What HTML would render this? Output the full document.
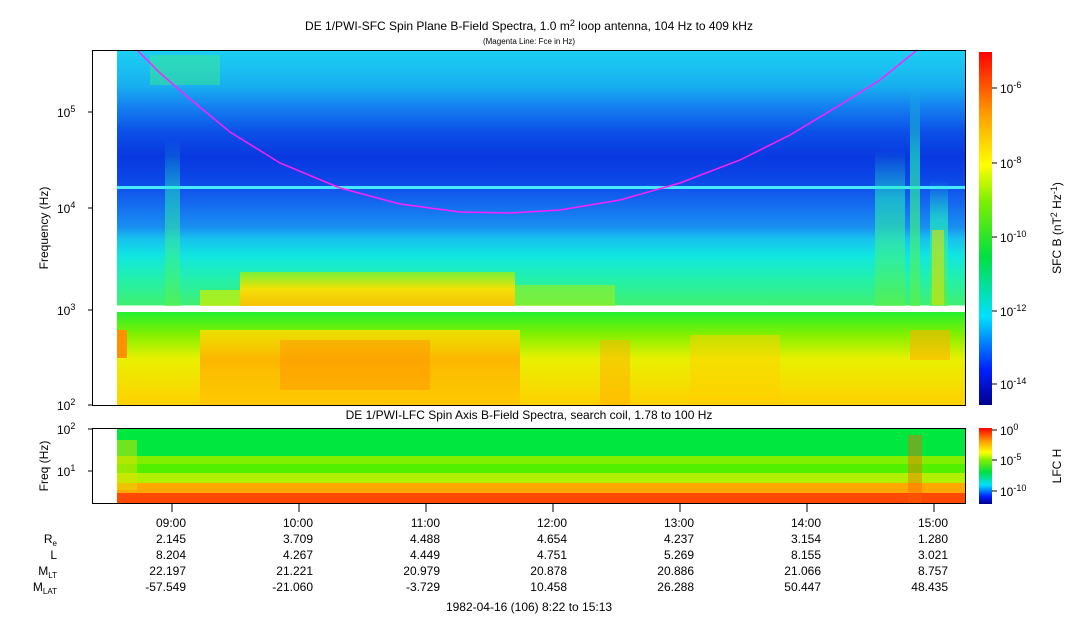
<!DOCTYPE html>
<html><head><meta charset="utf-8"><style>
body{margin:0;background:#fff;width:1083px;height:620px;overflow:hidden}
svg{font-family:"Liberation Sans",sans-serif;font-size:12px}
</style></head><body>
<svg width="1083" height="620" xmlns="http://www.w3.org/2000/svg">
<defs>
<linearGradient id="mv" x1="0" y1="0" x2="0" y2="1">
<stop offset="0" stop-color="#1cd0f2"/>
<stop offset="0.1" stop-color="#18b0f0"/>
<stop offset="0.16" stop-color="#1480f0"/>
<stop offset="0.23" stop-color="#0c50e8"/>
<stop offset="0.3" stop-color="#0838e0"/>
<stop offset="0.37" stop-color="#0c48e8"/>
<stop offset="0.43" stop-color="#1468f0"/>
<stop offset="0.5" stop-color="#1890f0"/>
<stop offset="0.53" stop-color="#18c0f0"/>
<stop offset="0.58" stop-color="#10e6e0"/>
<stop offset="0.64" stop-color="#20f0b0"/>
<stop offset="0.72" stop-color="#40f070"/>
<stop offset="0.72" stop-color="#fff"/>
<stop offset="0.735" stop-color="#fff"/>
<stop offset="0.735" stop-color="#20f030"/>
<stop offset="0.8" stop-color="#80f000"/>
<stop offset="0.87" stop-color="#e8f000"/>
<stop offset="1" stop-color="#ffd000"/>
</linearGradient>
<linearGradient id="cb" x1="0" y1="1" x2="0" y2="0">
<stop offset="0" stop-color="#00008c"/>
<stop offset="0.1" stop-color="#0020ff"/>
<stop offset="0.25" stop-color="#00e0ff"/>
<stop offset="0.42" stop-color="#00e040"/>
<stop offset="0.58" stop-color="#80f000"/>
<stop offset="0.68" stop-color="#ffff00"/>
<stop offset="0.82" stop-color="#ffa000"/>
<stop offset="1" stop-color="#ff0000"/>
</linearGradient>
<linearGradient id="or" x1="0" y1="0" x2="0" y2="1">
<stop offset="0" stop-color="#f8e000" stop-opacity="0.9"/>
<stop offset="0.4" stop-color="#ffb000" stop-opacity="0.9"/>
<stop offset="1" stop-color="#ffc000" stop-opacity="0.6"/>
</linearGradient>
<linearGradient id="ye" x1="0" y1="0" x2="0" y2="1">
<stop offset="0" stop-color="#a0f000" stop-opacity="0.7"/>
<stop offset="0.5" stop-color="#ffe000" stop-opacity="0.95"/>
<stop offset="1" stop-color="#ffc000" stop-opacity="0.95"/>
</linearGradient>
<linearGradient id="st" x1="0" y1="0" x2="0" y2="1">
<stop offset="0" stop-color="#20f0c0" stop-opacity="0"/>
<stop offset="0.3" stop-color="#20f0c0" stop-opacity="0.8"/>
<stop offset="1" stop-color="#60f040" stop-opacity="0.9"/>
</linearGradient>
</defs>
<rect x="117" y="50" width="849" height="355" fill="url(#mv)"/>
<rect x="117" y="186" width="849" height="3" fill="#48e8ff"/>
<rect x="240" y="272" width="275" height="34" fill="url(#ye)"/>
<rect x="200" y="290" width="40" height="16" fill="#d0f000" opacity="0.7"/>
<rect x="515" y="285" width="100" height="21" fill="#b0f000" opacity="0.5"/>
<rect x="200" y="330" width="320" height="75" fill="url(#or)"/>
<rect x="280" y="340" width="150" height="50" fill="#ff9000" opacity="0.45"/>
<rect x="600" y="340" width="30" height="65" fill="#ffb000" opacity="0.5"/>
<rect x="690" y="335" width="90" height="70" fill="#ffd000" opacity="0.5"/>
<rect x="117" y="330" width="10" height="28" fill="#ff9000"/>
<rect x="910" y="330" width="40" height="30" fill="#ffb000" opacity="0.6"/>
<rect x="875" y="150" width="30" height="160" fill="url(#st)" opacity="0.7"/>
<rect x="910" y="90" width="10" height="220" fill="url(#st)" opacity="0.8"/>
<rect x="930" y="180" width="18" height="130" fill="url(#st)" opacity="0.8"/>
<rect x="932" y="230" width="12" height="75" fill="#e0e000" opacity="0.6"/>
<rect x="165" y="140" width="15" height="170" fill="url(#st)" opacity="0.6"/>
<rect x="150" y="55" width="70" height="30" fill="#40f080" opacity="0.45"/>
<rect x="92" y="50" width="25" height="355" fill="#fff"/>
<rect x="92" y="306" width="874" height="6" fill="#fff"/>
<polyline fill="none" stroke="#ff20ff" stroke-width="1.5" points="137,50 160,73 190,99 230,132 280,163 340,188 400,204 460,212 510,213 560,210 620,200 680,183 740,160 790,135 840,105 880,80 917,50"/>
<rect x="92.5" y="50.5" width="873" height="355" fill="none" stroke="#000"/>
<rect x="117" y="428" width="849" height="28" fill="#00e840"/>
<rect x="117" y="456" width="849" height="8" fill="#80f000"/>
<rect x="117" y="464" width="849" height="9" fill="#50f000"/>
<rect x="117" y="473" width="849" height="10" fill="#b0f000"/>
<rect x="117" y="483" width="849" height="10" fill="#ffa800"/>
<rect x="117" y="493" width="849" height="10" fill="#ff4800"/>
<rect x="117" y="440" width="20" height="50" fill="#e0e000" opacity="0.5"/>
<rect x="908" y="435" width="14" height="68" fill="#ff6000" opacity="0.4"/>
<rect x="92.5" y="428.5" width="873" height="75" fill="none" stroke="#000"/>
<rect x="979" y="52" width="13" height="353" fill="url(#cb)"/>
<rect x="979" y="428" width="13" height="76" fill="url(#cb)"/>
<g stroke="#000">
<line x1="992" y1="88" x2="997" y2="88"/><line x1="992" y1="163" x2="997" y2="163"/><line x1="992" y1="237" x2="997" y2="237"/><line x1="992" y1="311" x2="997" y2="311"/><line x1="992" y1="384" x2="997" y2="384"/>
<line x1="992" y1="430" x2="997" y2="430"/><line x1="992" y1="460" x2="997" y2="460"/><line x1="992" y1="491" x2="997" y2="491"/>
<line x1="88" y1="405" x2="92" y2="405"/><line x1="88" y1="310" x2="92" y2="310"/><line x1="88" y1="208" x2="92" y2="208"/><line x1="88" y1="112" x2="92" y2="112"/>
<line x1="88" y1="429" x2="92" y2="429"/><line x1="88" y1="471" x2="92" y2="471"/>
<line x1="172" y1="504" x2="172" y2="512"/><line x1="299" y1="504" x2="299" y2="512"/><line x1="426" y1="504" x2="426" y2="512"/><line x1="553" y1="504" x2="553" y2="512"/><line x1="680" y1="504" x2="680" y2="512"/><line x1="807" y1="504" x2="807" y2="512"/><line x1="934" y1="504" x2="934" y2="512"/>
</g>
<g font-size="12">
<text x="1000" y="93">10<tspan dy="-5" font-size="9">-6</tspan></text>
<text x="1000" y="168">10<tspan dy="-5" font-size="9">-8</tspan></text>
<text x="1000" y="242">10<tspan dy="-5" font-size="9">-10</tspan></text>
<text x="1000" y="316">10<tspan dy="-5" font-size="9">-12</tspan></text>
<text x="1000" y="389">10<tspan dy="-5" font-size="9">-14</tspan></text>
<text x="1000" y="435">10<tspan dy="-5" font-size="9">0</tspan></text>
<text x="1000" y="465">10<tspan dy="-5" font-size="9">-5</tspan></text>
<text x="1000" y="496">10<tspan dy="-5" font-size="9">-10</tspan></text>
<text x="57" y="410">10<tspan dy="-5" font-size="9">2</tspan></text>
<text x="57" y="315">10<tspan dy="-5" font-size="9">3</tspan></text>
<text x="57" y="213">10<tspan dy="-5" font-size="9">4</tspan></text>
<text x="57" y="117">10<tspan dy="-5" font-size="9">5</tspan></text>
<text x="57" y="434">10<tspan dy="-5" font-size="9">2</tspan></text>
<text x="57" y="476">10<tspan dy="-5" font-size="9">1</tspan></text>
<text transform="translate(48,228) rotate(-90)" text-anchor="middle">Frequency (Hz)</text>
<text transform="translate(48,466) rotate(-90)" text-anchor="middle">Freq (Hz)</text>
<text transform="translate(1061,228) rotate(-90)" text-anchor="middle">SFC B (nT<tspan dy="-4" font-size="9">2</tspan><tspan dy="4"> Hz</tspan><tspan dy="-4" font-size="9">-1</tspan><tspan dy="4">)</tspan></text>
<text transform="translate(1061,466) rotate(-90)" text-anchor="middle">LFC H</text>
<text x="529" y="30" text-anchor="middle">DE 1/PWI-SFC  Spin Plane B-Field Spectra, 1.0 m<tspan dy="-4" font-size="9">2</tspan><tspan dy="4"> loop antenna, 104 Hz to 409 kHz</tspan></text>
<text x="529" y="44" text-anchor="middle" font-size="8">(Magenta Line: Fce in Hz)</text>
<text x="529" y="419" text-anchor="middle">DE 1/PWI-LFC  Spin Axis B-Field Spectra, search coil, 1.78 to 100 Hz</text>
</g>
<g text-anchor="end" font-size="12">
<text x="186" y="527">09:00</text><text x="313" y="527">10:00</text><text x="440" y="527">11:00</text><text x="567" y="527">12:00</text><text x="694" y="527">13:00</text><text x="821" y="527">14:00</text><text x="948" y="527">15:00</text>
<text x="186" y="543">2.145</text><text x="313" y="543">3.709</text><text x="440" y="543">4.488</text><text x="567" y="543">4.654</text><text x="694" y="543">4.237</text><text x="821" y="543">3.154</text><text x="948" y="543">1.280</text>
<text x="186" y="559">8.204</text><text x="313" y="559">4.267</text><text x="440" y="559">4.449</text><text x="567" y="559">4.751</text><text x="694" y="559">5.269</text><text x="821" y="559">8.155</text><text x="948" y="559">3.021</text>
<text x="186" y="575">22.197</text><text x="313" y="575">21.221</text><text x="440" y="575">20.979</text><text x="567" y="575">20.878</text><text x="694" y="575">20.886</text><text x="821" y="575">21.066</text><text x="948" y="575">8.757</text>
<text x="186" y="591">-57.549</text><text x="313" y="591">-21.060</text><text x="440" y="591">-3.729</text><text x="567" y="591">10.458</text><text x="694" y="591">26.288</text><text x="821" y="591">50.447</text><text x="948" y="591">48.435</text>
<text x="57" y="543">R<tspan font-size="8" dy="3">e</tspan></text>
<text x="57" y="559">L</text>
<text x="57" y="575">M<tspan font-size="8" dy="3">LT</tspan></text>
<text x="57" y="591">M<tspan font-size="8" dy="3">LAT</tspan></text>
</g>
<text x="529" y="611" text-anchor="middle">1982-04-16 (106) 8:22 to 15:13</text>
</svg>
</body></html>
